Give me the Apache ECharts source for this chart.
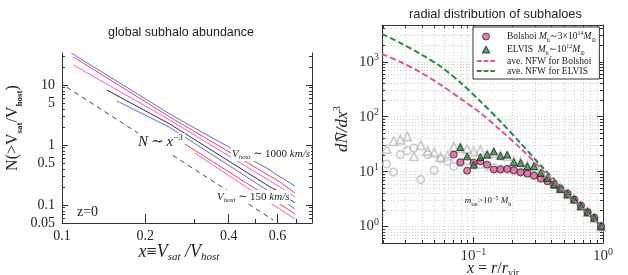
<!DOCTYPE html>
<html><head><meta charset="utf-8">
<script src="https://cdn.jsdelivr.net/npm/echarts@6/dist/echarts.min.js"></script>
<style>html,body{margin:0;padding:0;background:#fff}#c{width:628px;height:275px}</style>
</head><body><div id="c"></div>
<script>
// ---------------- Left panel: global subhalo abundance ----------------
const leftXLabels = [0.1, 0.2, 0.4, 0.6];
const leftXMajor = [0.2, 0.4, 0.6];
const leftXMinor = [0.3, 0.5, 0.7];
const leftYLabels = [0.05, 0.1, 0.5, 1, 5, 10];
const leftYMajor = [0.1, 1, 10];
const vfBlue1 = [[0.108,34.1],[0.226,4.14],[0.252,3.04],[0.564,0.383],[0.583,0.341],[0.694,0.207]];
const vfRed1 = [[0.110,29.3],[0.245,2.93],[0.564,0.304],[0.612,0.242],[0.694,0.158]];
const vfMagenta1 = [[0.110,21.5],[0.245,2.61],[0.564,0.251],[0.612,0.200],[0.694,0.136]];
const vfBlack = [[0.145,8.25],[0.245,2.24],[0.564,0.200],[0.612,0.165],[0.694,0.108]];
const vfBlue2 = [[0.158,5.41],[0.245,1.96],[0.564,0.165],[0.612,0.131],[0.694,0.0858]];
const vfRed2 = [[0.260,1.26],[0.564,0.131],[0.612,0.104],[0.694,0.0708]];
const vfMagenta2 = [[0.302,0.735],[0.564,0.108],[0.612,0.0858],[0.694,0.0584]];
const powerLaw = [[0.104,9.2],[0.58,0.056]];

// ---------------- Right panel: radial distribution ----------------
const rightXMajor = [0.1, 1];
const rightYMajor = [1, 10, 100, 1000];
const radialX = [0.0214,0.0242,0.0273,0.0309,0.0348,0.0392,0.0444,0.0498,0.0560,0.0632,0.0706,0.0793,0.0894,0.1005,0.1133,0.1277,0.1437,0.1619,0.1825,0.2053,0.2314,0.2609,0.2934,0.3307,0.3727,0.4194,0.4683,0.5326,0.5992,0.6753,0.7612,0.8563,0.9650];
const grayCircles = [13.8,9.87,20.4,24.1,27.0,7.15,20.4,10.6,17.2,15.4,12.5,14.5,16.0,13.0,13.5,12.5,11.7,11.2,11.0,10.3,9.8,9.2,8.5,7.6,6.8,5.9,4.9,4.0,3.1,2.4,1.85,1.45,1.0];
const grayTriangles = [25.9,35.8,38.2,43.8,19.0,30.3,23.9,22.4,18.4,19.5,28.5,27.0,25.9,23.4,24.4,21.0,22.0,20.0,19.0,15.5,15.0,13.0,13.0,10.0,8.0,6.2,5.0,4.0,3.2,2.4,1.85,1.45,1.0];
const bolshoi = [null,null,null,null,null,null,null,null,null,null,20.4,14.8,10.4,14.6,15.4,13.4,10.9,10.9,11.2,10.6,9.7,9.2,8.46,7.46,6.67,5.8,4.85,3.98,3.1,2.41,1.82,1.44,1.01];
const elvis = [null,null,null,null,null,null,null,null,null,null,null,28.1,19.0,13.4,18.5,20.4,23.4,19.5,20.4,14.8,14.4,12.5,12.5,9.47,7.68,5.8,4.85,3.82,3.1,2.34,1.82,1.44,1.01];
const nfwX = [0.0197,0.0272,0.0388,0.0555,0.0793,0.1133,0.1619,0.2314,0.3307,0.4726,0.6753,1.0];
const nfwBolshoi = [1397,1000,650,385,215,117,57,26.5,11.5,5.0,2.25,0.95];
const nfwElvis = [3228,2215,1400,830,420,190,82,33,13,5.4,2.25,0.95];

const L10 = Math.log10;
const SERIF = '"Liberation Serif","DejaVu Serif",serif';
const SANS = '"Liberation Sans",Arial,sans-serif';
const AX = '#333';

function decadeTicks(lo, hi, decades) {
  const out = [];
  decades.forEach(d => { for (let m = 2; m <= 9; m++) { const v = +(m * d).toPrecision(3); if (v >= lo * 0.999 && v <= hi * 1.001) out.push(v); } });
  return out;
}
const leftYMinor = decadeTicks(0.05, 34, [0.01, 0.1, 1, 10]);
const rightXMinor = decadeTicks(0.0197, 1, [0.01, 0.1]);
const rightYMinor = decadeTicks(0.5, 4700, [0.1, 1, 10, 100, 1000]);

function toLog(pts) { return pts.map(p => [L10(p[0]), L10(p[1])]); }
function pairLog(xs, ys) { const o = []; xs.forEach((x, i) => { if (ys[i] != null) o.push([L10(x), L10(ys[i])]); }); return o; }

function ax(grid, pos, min, max, ticks, len, extra) {
  return Object.assign({
    type: 'value', gridIndex: grid, position: pos, min: min, max: max,
    axisLine: { show: false, onZero: false },
    axisTick: { show: true, inside: true, length: len, customValues: ticks.map(L10), lineStyle: { color: AX, width: 1 } },
    axisLabel: { show: false },
    splitLine: { show: false }
  }, extra || {});
}
const lineOn = { show: true, onZero: false, lineStyle: { color: AX, width: 1 } };

const LX0 = L10(0.1), LX1 = L10(0.8), LY0 = L10(0.05), LY1 = 1.533;
const RX0 = -1.705, RX1 = 0, RY0 = -0.3, RY1 = 3.67;
const dotted = { show: true, lineStyle: { type: [1, 2], color: '#c4c4c4', width: 0.8 } };

const decFmt = v => String(+Math.pow(10, v).toPrecision(3));
const powFmt = v => { const e = Math.round(v); return '{b|10}{s|' + (e < 0 ? '\u2212' + (-e) : e) + '}'; };
const powRich = { b: { fontFamily: SERIF, fontSize: 15, color: '#333', lineHeight: 18 }, s: { fontFamily: SERIF, fontSize: 10, color: '#333', verticalAlign: 'top' } };

const xAxis = [
  ax(0, 'bottom', LX0, LX1, leftXMajor, 9, { axisLine: lineOn,
    axisLabel: { show: true, customValues: leftXLabels.map(L10), formatter: decFmt, margin: 6, fontFamily: SERIF, fontSize: 14, color: '#222' } }),
  ax(0, 'bottom', LX0, LX1, leftXMinor, 4),
  ax(1, 'bottom', RX0, RX1, rightXMajor, 6, { axisLine: lineOn,
    axisLabel: { show: true, customValues: rightXMajor.map(L10), formatter: powFmt, rich: powRich, margin: 4 } }),
  ax(1, 'bottom', RX0, RX1, rightXMinor.concat(rightXMajor), 3, { splitLine: dotted }),
  ax(1, 'top', RX0, RX1, rightXMajor, 6, { axisLine: lineOn }),
  ax(1, 'top', RX0, RX1, rightXMinor, 3)
];
const yAxis = [
  ax(0, 'left', LY0, LY1, leftYMajor, 6, { axisLine: lineOn,
    axisLabel: { show: true, customValues: leftYLabels.map(L10), formatter: decFmt, margin: 7, fontFamily: SERIF, fontSize: 14, color: '#222' } }),
  ax(0, 'left', LY0, LY1, leftYMinor, 3),
  ax(0, 'right', LY0, LY1, leftYMajor, 6, { axisLine: lineOn }),
  ax(0, 'right', LY0, LY1, leftYMinor, 3),
  ax(1, 'left', RY0, RY1, rightYMajor, 6, { axisLine: lineOn,
    axisLabel: { show: true, customValues: rightYMajor.map(L10), formatter: powFmt, rich: powRich, margin: 3 } }),
  ax(1, 'left', RY0, RY1, rightYMinor.concat(rightYMajor), 3, { splitLine: dotted }),
  ax(1, 'right', RY0, RY1, rightYMajor, 6, { axisLine: lineOn }),
  ax(1, 'right', RY0, RY1, rightYMinor, 3)
];

function vfLine(name, pts, color) {
  return { name: name, type: 'line', xAxisIndex: 0, yAxisIndex: 0, data: toLog(pts), symbol: 'none', silent: true,
    lineStyle: { color: color, width: 1 }, z: 2 };
}
const BLUE = '#5a66ff', RED = '#ff4040', MAG = '#ff55e6', BLK = '#333333';
const PINK = '#e2559a', GREEN = '#2a8a3e';

function txt(x, y, text, rich, opts) {
  return Object.assign({ type: 'text', x: x, y: y, z: 50,
    style: Object.assign({ text: text, rich: rich, fill: '#222', align: 'left', verticalAlign: 'middle', textAlign: 'left', textVerticalAlign: 'middle' }, (opts && opts.style) || {}) },
    (opts && opts.el) || {});
}
const it = (s, extra) => Object.assign({ fontFamily: SERIF, fontStyle: 'italic', fontSize: s, fill: '#222', color: '#222' }, extra || {});
const rm = (s, extra) => Object.assign({ fontFamily: SERIF, fontSize: s, fill: '#222', color: '#222' }, extra || {});

const graphic = [
  txt(13, 128, '{r|N(>V}{b|sat}{r|/V}{b|host}{r|)}',
    { r: rm(16, { lineHeight: 22 }), b: rm(9, { fontWeight: 'bold', verticalAlign: 'bottom' }) },
    { el: { rotation: Math.PI / 2 }, style: { align: 'center', textAlign: 'center' } }),
  txt(179, 252, '{i|x}{r|\u2261}{i|V}{s|sat}{r| }{i|/V}{s|host}',
    { i: it(18, { lineHeight: 22 }), r: rm(18, { lineHeight: 22 }), s: it(11, { verticalAlign: 'bottom' }) },
    { style: { align: 'center', textAlign: 'center' } }),
  txt(137, 144, '{i|N}{r|\u2009\u223c\u2009}{i|x}{p|\u22123}',
    { i: it(15, { lineHeight: 18 }), r: rm(15, { lineHeight: 18 }), p: rm(9, { verticalAlign: 'top' }) },
    { style: { backgroundColor: '#fff', padding: [0, 2, 4, 1] } }),
  txt(231, 154, '{i|V}{s|host}{r| \u223c 1000 }{i|km/s}',
    { i: it(11, { lineHeight: 14 }), r: rm(11, { lineHeight: 14 }), s: it(7, { verticalAlign: 'bottom' }) },
    { style: { backgroundColor: '#fff', padding: [0, 1, 0, 1] } }),
  txt(216, 197, '{i|V}{s|host}{r| \u223c 150 }{i|km/s}',
    { i: it(11, { lineHeight: 14 }), r: rm(11, { lineHeight: 14 }), s: it(7, { verticalAlign: 'bottom' }) },
    { style: { backgroundColor: '#fff', padding: [0, 1, 0, 1] } }),
  txt(77, 212, '{r|z=0}', { r: rm(14) }),
  txt(343, 129, '{i|d}{i|N\u0304}{i|/d}{i|x}{p|3}',
    { i: it(17, { lineHeight: 22 }), p: rm(11, { verticalAlign: 'top' }) },
    { el: { rotation: Math.PI / 2 }, style: { align: 'center', textAlign: 'center' } }),
  txt(493, 269, '{i|x}{r| = }{i|r}{r|/}{i|r}{s|vir}',
    { i: it(16, { lineHeight: 18 }), r: rm(16, { lineHeight: 18 }), s: rm(10, { verticalAlign: 'bottom' }) },
    { style: { align: 'center', textAlign: 'center' } }),
  txt(488, 201, '{i|m}{s|sat}{r|>10}{p|\u22125}{i| M}{s|h}',
    { i: it(9, { lineHeight: 12 }), r: rm(9, { lineHeight: 12 }), s: rm(6, { verticalAlign: 'bottom' }), p: rm(6, { verticalAlign: 'top' }) },
    { style: { align: 'center', textAlign: 'center' } })
];

const legendText = {
  'Bolshoi': '{g| }{t|Bolshoi }{i|M}{sb|h}{t|\u223c3\u00d710}{sp|14}{i|M}{sb|\u2299}',
  'ELVIS': '{g| }{t|ELVIS  }{i|M}{sb|h}{t|\u223c10}{sp|12}{i|M}{sb|\u2299}',
  'ave. NFW for Bolshoi': '{g| }{u|ave. NFW for Bolshoi}',
  'ave. NFW for ELVIS': '{g| }{u|ave. NFW for ELVIS}'
};
const dashIcon = 'path://M0,0h7v3h-7zM10,0h7v3h-7zM20,0h7v3h-7z';
const circleIcon = 'path://M0,5A5,5 0 1,1 10,5A5,5 0 1,1 0,5Z';
const triIcon = 'path://M5,0L10,9L0,9Z';

const option = {
  animation: false,
  backgroundColor: '#fff',
  title: [
    { text: 'global subhalo abundance', left: 108, top: 26, padding: 0, textStyle: { fontFamily: SANS, fontSize: 12.5, fontWeight: 'normal', color: '#222' } },
    { text: 'radial distribution of subhaloes', left: 409, top: 8, padding: 0, textStyle: { fontFamily: SANS, fontSize: 12.8, fontWeight: 'normal', color: '#222' } }
  ],
  grid: [
    { left: 62, top: 53, width: 250, height: 170, containLabel: false },
    { left: 382, top: 25, width: 221, height: 218, containLabel: false }
  ],
  xAxis: xAxis,
  yAxis: yAxis,
  legend: {
    data: [
      { name: 'Bolshoi', icon: circleIcon, itemStyle: { color: PINK, borderColor: '#2a2a2a', borderWidth: 1 } },
      { name: 'ELVIS', icon: triIcon, itemStyle: { color: GREEN, borderColor: '#222', borderWidth: 1 } },
      { name: 'ave. NFW for Bolshoi', icon: dashIcon, itemStyle: { color: PINK, borderWidth: 0 } },
      { name: 'ave. NFW for ELVIS', icon: dashIcon, itemStyle: { color: GREEN, borderWidth: 0 } }
    ],
    orient: 'vertical', left: 473, top: 27, padding: [3, 3, 3, 4], itemGap: 0,
    itemWidth: 18, itemHeight: 7, selectedMode: false, symbolKeepAspect: true,
    backgroundColor: '#fff', borderColor: '#333', borderWidth: 1, borderRadius: 0, z: 20,
    formatter: n => legendText[n],
    textStyle: {
      fontFamily: SERIF, fontSize: 9.5, color: '#222',
      rich: {
        g: { width: 7 },
        t: { fontFamily: SERIF, fontSize: 9.5, lineHeight: 13, color: '#222' },
        u: { fontFamily: SERIF, fontSize: 9.5, lineHeight: 11, color: '#222' },
        i: { fontFamily: SERIF, fontSize: 9.5, fontStyle: 'italic', lineHeight: 13, color: '#222' },
        sb: { fontFamily: SERIF, fontSize: 6, verticalAlign: 'bottom', color: '#222' },
        sp: { fontFamily: SERIF, fontSize: 6, verticalAlign: 'top', color: '#222' }
      }
    }
  },
  graphic: graphic,
  series: [
    vfLine('blue1', vfBlue1, BLUE),
    vfLine('red1', vfRed1, RED),
    vfLine('magenta1', vfMagenta1, MAG),
    vfLine('black', vfBlack, BLK),
    vfLine('blue2', vfBlue2, BLUE),
    vfLine('red2', vfRed2, RED),
    vfLine('magenta2', vfMagenta2, MAG),
    { name: 'N~x^-3', type: 'line', xAxisIndex: 0, yAxisIndex: 0, data: toLog(powerLaw), symbol: 'none', silent: true,
      lineStyle: { color: '#444', width: 1, type: [5, 4] }, z: 1 },
    { name: 'Bolshoi (all)', type: 'scatter', xAxisIndex: 2, yAxisIndex: 4, data: pairLog(radialX, grayCircles),
      symbol: 'circle', symbolSize: 7.5, silent: true, itemStyle: { color: 'rgba(0,0,0,0)', borderColor: '#bdbdbd', borderWidth: 1.6 }, z: 2 },
    { name: 'ELVIS (all)', type: 'scatter', xAxisIndex: 2, yAxisIndex: 4, data: pairLog(radialX, grayTriangles),
      symbol: 'triangle', symbolSize: 8.5, silent: true, itemStyle: { color: 'rgba(0,0,0,0)', borderColor: '#bdbdbd', borderWidth: 1.6 }, z: 2 },
    { name: 'Bolshoi', type: 'scatter', xAxisIndex: 2, yAxisIndex: 4, data: pairLog(radialX, bolshoi),
      symbol: 'circle', symbolSize: 7, silent: true, itemStyle: { color: PINK, borderColor: '#2a2a2a', borderWidth: 1 }, z: 3 },
    { name: 'ELVIS', type: 'scatter', xAxisIndex: 2, yAxisIndex: 4, data: pairLog(radialX, elvis),
      symbol: 'triangle', symbolSize: 7, silent: true, itemStyle: { color: GREEN, borderColor: '#222', borderWidth: 1 }, z: 4 },
    { name: 'ave. NFW for Bolshoi', type: 'line', xAxisIndex: 2, yAxisIndex: 4, data: pairLog(nfwX, nfwBolshoi), symbol: 'none', silent: true,
      smooth: 0.3, lineStyle: { color: PINK, width: 2, type: [6, 3] }, itemStyle: { color: PINK }, z: 5 },
    { name: 'ave. NFW for ELVIS', type: 'line', xAxisIndex: 2, yAxisIndex: 4, data: pairLog(nfwX, nfwElvis), symbol: 'none', silent: true,
      smooth: 0.3, lineStyle: { color: GREEN, width: 2, type: [6, 3] }, itemStyle: { color: GREEN }, z: 5 }
  ]
};
const chart = echarts.init(document.getElementById('c'));
chart.setOption(option);
</script></body></html>
